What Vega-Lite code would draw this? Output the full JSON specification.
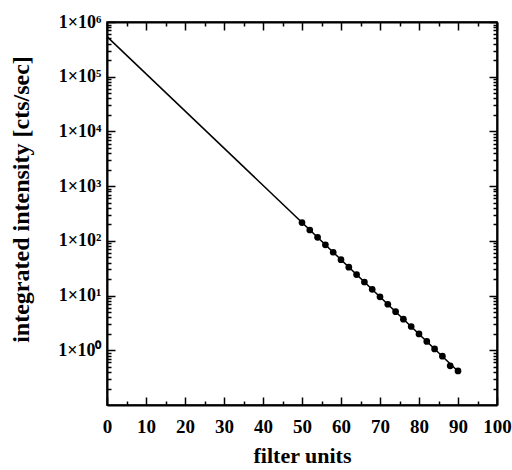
{
  "$schema": "https://vega.github.io/schema/vega-lite/v6.json",
  "width": 390,
  "height": 383,
  "autosize": {"type": "none"},
  "padding": {"left": 107, "top": 22, "right": 15, "bottom": 65},
  "background": "white",
  "config": {
    "view": {"stroke": "black", "strokeWidth": 1.5},
    "font": "Liberation Serif",
    "axis": {
      "domainColor": "black",
      "domainWidth": 2,
      "tickColor": "black",
      "tickWidth": 1.5,
      "grid": false,
      "labelOverlap": false,
      "labelFlush": false
    }
  },
  "datasets": {
    "fit": [
      {"filter": 0, "intensity": 540000},
      {"filter": 90, "intensity": 0.415}
    ],
    "meas": [
      {"filter": 50, "intensity": 216},
      {"filter": 52, "intensity": 158},
      {"filter": 54, "intensity": 116},
      {"filter": 56, "intensity": 84.7},
      {"filter": 58, "intensity": 61.9},
      {"filter": 60, "intensity": 45.3},
      {"filter": 62, "intensity": 33.1},
      {"filter": 64, "intensity": 24.2},
      {"filter": 66, "intensity": 17.7},
      {"filter": 68, "intensity": 13.0},
      {"filter": 70, "intensity": 9.49},
      {"filter": 72, "intensity": 6.94},
      {"filter": 74, "intensity": 5.07},
      {"filter": 76, "intensity": 3.71},
      {"filter": 78, "intensity": 2.72},
      {"filter": 80, "intensity": 1.99},
      {"filter": 82, "intensity": 1.45},
      {"filter": 84, "intensity": 1.06},
      {"filter": 86, "intensity": 0.78},
      {"filter": 88, "intensity": 0.52},
      {"filter": 90, "intensity": 0.42}
    ]
  },
  "layer": [
    {
      "data": {"name": "fit"},
      "mark": {"type": "line", "color": "black", "strokeWidth": 1.5},
      "encoding": {
        "x": {
          "field": "filter", "type": "quantitative",
          "scale": {"domain": [0, 100], "nice": false},
          "axis": {
            "orient": "bottom",
            "title": "filter units",
            "values": [0,5,10,15,20,25,30,35,40,45,50,55,60,65,70,75,80,85,90,95,100],
            "labelExpr": "datum.value % 10 == 0 ? datum.label : ''",
            "tickSize": {"condition": {"test": "datum.value % 10 == 0", "value": -8}, "value": -4},
            "labelFont": "Liberation Serif",
            "labelFontWeight": "bold",
            "labelFontSize": 19,
            "labelColor": "black",
            "titleFont": "Liberation Serif",
            "titleFontWeight": "bold",
            "titleFontSize": 22,
            "titleColor": "black",
            "labelPadding": 20,
            "titlePadding": 5
          }
        },
        "y": {
          "field": "intensity", "type": "quantitative",
          "scale": {"type": "log", "domain": [0.1, 1000000], "nice": false},
          "axis": {
            "orient": "left",
            "title": "integrated intensity [cts/sec]",
            "values": [0.2,0.3,0.4,0.5,0.6,0.7,0.8,0.9,1,2,3,4,5,6,7,8,9,10,20,30,40,50,60,70,80,90,100,200,300,400,500,600,700,800,900,1000,2000,3000,4000,5000,6000,7000,8000,9000,10000,20000,30000,40000,50000,60000,70000,80000,90000,100000,200000,300000,400000,500000,600000,700000,800000,900000,1000000],
            "labelExpr": "abs(log(datum.value)/LN10 - round(log(datum.value)/LN10)) < 0.000001 && datum.value >= 1 ? '1×10' + ['⁰','¹','²','³','⁴','⁵','⁶'][round(log(datum.value)/LN10)] : ''",
            "tickSize": {"condition": {"test": "abs(log(datum.value)/LN10 - round(log(datum.value)/LN10)) < 0.000001", "value": -8}, "value": -4},
            "labelFont": "Liberation Serif",
            "labelFontWeight": "bold",
            "labelFontSize": 18,
            "labelColor": "black",
            "titleFont": "Liberation Serif",
            "titleFontWeight": "bold",
            "titleFontSize": 24,
            "titleColor": "black",
            "labelPadding": 14,
            "titleX": -74,
            "titleY": 177
          }
        }
      }
    },
    {
      "data": {"name": "meas"},
      "mark": {"type": "point", "filled": true, "color": "black", "size": 45, "opacity": 1},
      "encoding": {
        "x": {
          "field": "filter", "type": "quantitative",
          "axis": {
            "orient": "top",
            "title": null,
            "labels": false,
            "values": [0,5,10,15,20,25,30,35,40,45,50,55,60,65,70,75,80,85,90,95,100],
            "tickSize": {"condition": {"test": "datum.value % 10 == 0", "value": -8}, "value": -4}
          }
        },
        "y": {
          "field": "intensity", "type": "quantitative",
          "axis": {
            "orient": "right",
            "title": null,
            "labels": false,
            "values": [0.2,0.3,0.4,0.5,0.6,0.7,0.8,0.9,1,2,3,4,5,6,7,8,9,10,20,30,40,50,60,70,80,90,100,200,300,400,500,600,700,800,900,1000,2000,3000,4000,5000,6000,7000,8000,9000,10000,20000,30000,40000,50000,60000,70000,80000,90000,100000,200000,300000,400000,500000,600000,700000,800000,900000,1000000],
            "tickSize": {"condition": {"test": "abs(log(datum.value)/LN10 - round(log(datum.value)/LN10)) < 0.000001", "value": -8}, "value": -4}
          }
        }
      }
    }
  ],
  "resolve": {"axis": {"x": "independent", "y": "independent"}}
}
